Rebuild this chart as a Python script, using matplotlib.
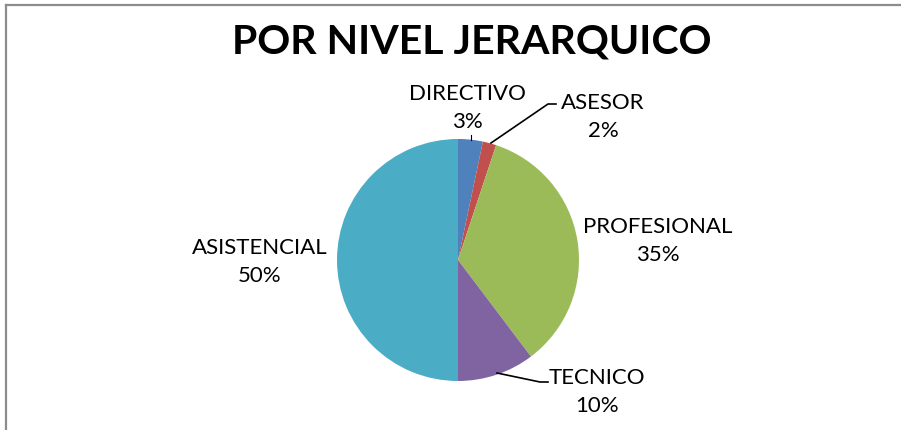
import matplotlib
matplotlib.use("Agg")
import matplotlib.pyplot as plt
from matplotlib.lines import Line2D

categories = ["DIRECTIVO", "ASESOR", "PROFESIONAL", "TECNICO", "ASISTENCIAL"]
values = [3.3, 1.8, 34.6, 10.3, 50.0]
pct_labels = ["3%", "2%", "35%", "10%", "50%"]
colors = ["#4F81BD", "#C0504D", "#9BBB59", "#8064A2", "#4BACC6"]

W, H = 901, 430
plt.rcParams["font.family"] = ["Lato", "DejaVu Sans"]

fig = plt.figure(figsize=(W / 100, H / 100), dpi=100)
ax = fig.add_axes([0, 0, 1, 1])

# pastel
ax.pie(values, colors=colors, startangle=90, counterclock=False,
       center=(458, H - 260), radius=121, frame=True,
       wedgeprops=dict(linewidth=0))
ax.set_xlim(0, W)
ax.set_ylim(0, H)
ax.set_aspect("equal")
ax.axis("off")

# borde del grafico (solo arriba e izquierda visibles)
fig.add_artist(Line2D([6 / W, 6 / W], [0, 1 - 5 / H], transform=fig.transFigure,
                      color="#8c8c8c", lw=1.6))
fig.add_artist(Line2D([6 / W, 1], [1 - 5 / H, 1 - 5 / H], transform=fig.transFigure,
                      color="#8c8c8c", lw=1.6))

ax.text(472, H - 42, "POR NIVEL JERARQUICO", ha="center", va="center",
        fontsize=29.5, fontweight="bold", color="black")

# etiquetas (x, y en pixeles desde arriba)
label_pos = [(467, 108), (603, 117), (658, 241), (597, 392), (260, 262)]
for cat, pct, (lx, ly) in zip(categories, pct_labels, label_pos):
    ax.text(lx, H - ly, cat + "\n" + pct, ha="center", va="center",
            fontsize=16, linespacing=1.45, color="black")

# lineas guia
ax.plot([491, 548, 556], [H - 143, H - 104, H - 104], color="black", lw=1.2)
ax.plot([497, 540, 548], [H - 373, H - 382, H - 382], color="black", lw=1.2)
ax.plot([471, 471], [H - 135, H - 140], color="black", lw=0.8)

fig.savefig("out.png", dpi=100, facecolor="white")
